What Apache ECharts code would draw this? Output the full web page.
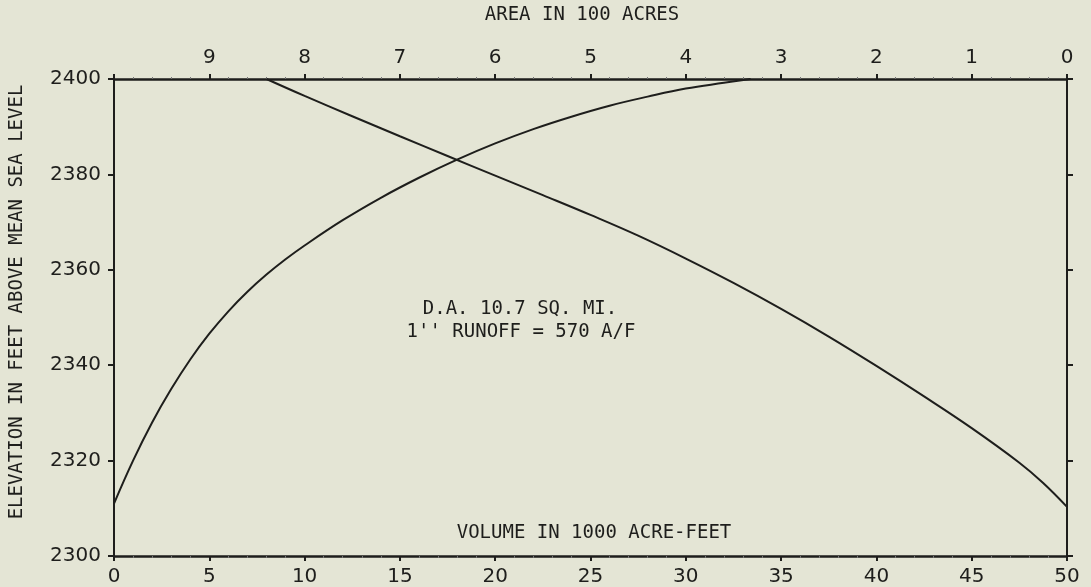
<!DOCTYPE html>
<html>
<head>
<meta charset="utf-8">
<script src="https://cdn.jsdelivr.net/npm/echarts@6/dist/echarts.min.js"></script>
<style>
html,body{margin:0;padding:0;background:#e4e5d5;}
#c{width:1091px;height:587px;}
</style>
</head>
<body>
<div id="c"></div>
<script>
// Volume curve: volume (1000 acre-feet) vs elevation (ft)
var volumeValues = [0, 1, 2, 3, 4, 5, 6, 7, 8, 9, 10, 12, 14, 16, 18, 20, 22, 24, 26, 28, 30, 32, 33.4];
var volumeElev   = [2311, 2320, 2328, 2335, 2341.2, 2346.6, 2351.3, 2355.4, 2359, 2362.2, 2365.1, 2370.4, 2375.1, 2379.3, 2383.1, 2386.5, 2389.5, 2392.1, 2394.4, 2396.3, 2398, 2399.2, 2400];
// Area curve: area (100 acres) vs elevation (ft)
var areaValues = [0, 0.25, 0.5, 1, 1.5, 2, 2.5, 3, 3.5, 4, 4.5, 5, 5.5, 6, 6.5, 7, 7.5, 8, 8.4];
var areaElev   = [2310.3, 2315.3, 2319.55, 2326.8, 2333.45, 2339.85, 2346.0, 2351.8, 2357.25, 2362.35, 2367.15, 2371.5, 2375.65, 2379.75, 2383.85, 2388.0, 2392.2, 2396.45, 2400];

var volumeTicks = [0, 5, 10, 15, 20, 25, 30, 35, 40, 45, 50];
var areaTicks = [0, 1, 2, 3, 4, 5, 6, 7, 8, 9];
var elevTicks = [2300, 2320, 2340, 2360, 2380, 2400];

var ink = '#1e1e1c';
var font = 'DejaVu Sans';
var textFont = '19px "DejaVu Sans Mono"';

function zip(a, b) { return a.map(function (v, i) { return [v, b[i]]; }); }

var chart = echarts.init(document.getElementById('c'));
chart.setOption({
  backgroundColor: '#e4e5d5',
  animation: false,
  grid: { left: 114, right: 24, top: 79, bottom: 31, containLabel: false },
  xAxis: [{
    type: 'value', position: 'bottom', min: 0, max: 50, interval: 5,
    axisLine: { show: true, onZero: false, lineStyle: { color: ink, width: 2.5 } },
    axisTick: { show: true, inside: false, length: 5, lineStyle: { color: ink, width: 2 } },
    minorTick: { show: true, splitNumber: 5, length: 2, lineStyle: { color: '#777', width: 1 } },
    axisLabel: { color: ink, fontFamily: font, fontSize: 20, margin: 11,
      formatter: function (v) { return volumeTicks.indexOf(v) >= 0 ? String(v) : ''; } },
    splitLine: { show: false }
  }, {
    type: 'value', position: 'top', min: 0, max: 10, interval: 1, inverse: true,
    axisLine: { show: true, onZero: false, lineStyle: { color: ink, width: 2.5 } },
    axisTick: { show: true, inside: false, length: 5, lineStyle: { color: ink, width: 2 } },
    minorTick: { show: true, splitNumber: 5, length: 2, lineStyle: { color: '#777', width: 1 } },
    axisLabel: { color: ink, fontFamily: font, fontSize: 20, margin: 11,
      formatter: function (v) { return areaTicks.indexOf(v) >= 0 ? String(v) : ''; } },
    splitLine: { show: false }
  }],
  yAxis: [{
    type: 'value', position: 'left', min: 2300, max: 2400, interval: 20,
    axisLine: { show: true, onZero: false, lineStyle: { color: ink, width: 2 } },
    axisTick: { show: true, inside: false, length: 6, lineStyle: { color: ink, width: 2 } },
    axisLabel: { color: ink, fontFamily: font, fontSize: 20, margin: 13,
      formatter: function (v) { return elevTicks.indexOf(v) >= 0 ? String(v) : ''; } },
    splitLine: { show: false }
  }, {
    type: 'value', position: 'right', min: 2300, max: 2400, interval: 20,
    axisLine: { show: true, onZero: false, lineStyle: { color: ink, width: 2 } },
    axisTick: { show: true, inside: false, length: 6, lineStyle: { color: ink, width: 2 } },
    axisLabel: { show: false },
    splitLine: { show: false }
  }],
  graphic: [
    { type: 'text', x: 582, y: 15, style: { text: 'AREA IN 100 ACRES', fill: ink, font: textFont, textAlign: 'center', textVerticalAlign: 'middle' } },
    { type: 'text', rotation: Math.PI / 2, x: 17, y: 302, style: { text: 'ELEVATION IN FEET ABOVE MEAN SEA LEVEL', fill: ink, font: textFont, textAlign: 'center', textVerticalAlign: 'middle' } },
    { type: 'text', x: 594, y: 533, style: { text: 'VOLUME IN 1000 ACRE-FEET', fill: ink, font: textFont, textAlign: 'center', textVerticalAlign: 'middle' } },
    { type: 'text', x: 520, y: 309, style: { text: 'D.A. 10.7 SQ. MI.', fill: ink, font: textFont, textAlign: 'center', textVerticalAlign: 'middle' } },
    { type: 'text', x: 521, y: 332, style: { text: '1\'\' RUNOFF = 570 A/F', fill: ink, font: textFont, textAlign: 'center', textVerticalAlign: 'middle' } }
  ],
  series: [{
    name: 'Volume', type: 'line', xAxisIndex: 0, yAxisIndex: 0,
    data: zip(volumeValues, volumeElev), showSymbol: false, smooth: 0.4,
    lineStyle: { color: ink, width: 2 }
  }, {
    name: 'Area', type: 'line', xAxisIndex: 1, yAxisIndex: 0,
    data: zip(areaValues, areaElev), showSymbol: false, smooth: 0.4,
    lineStyle: { color: ink, width: 2 }
  }]
});
</script>
</body>
</html>
